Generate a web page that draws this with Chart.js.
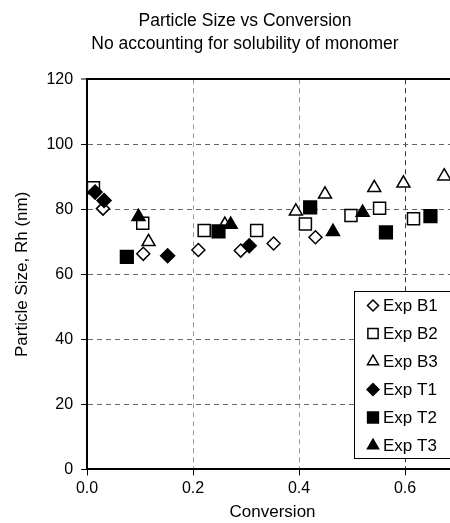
<!DOCTYPE html>
<html>
<head>
<meta charset="utf-8">
<script src="https://cdn.jsdelivr.net/npm/chart.js@4/dist/chart.umd.min.js"></script>
<style>
    html, body { margin: 0; padding: 0; background: #fff; overflow: hidden; }
    #wrap { width: 450px; height: 523px; overflow: hidden; }
</style>
</head>
<body>
<div id="wrap">
    <canvas id="sizeChart" width="490" height="523" style="width:490px;height:523px"></canvas>
</div>
<script>
// conversion (x) and hydrodynamic radius Rh in nm (y) for each run
var convB1 = [0.030, 0.106, 0.210, 0.290, 0.352, 0.431]
var rhB1 = [80.2, 66.3, 67.5, 67.3, 69.5, 71.4]

var convB2 = [0.012, 0.105, 0.221, 0.320, 0.412, 0.498, 0.552, 0.616]
var rhB2 = [86.6, 75.7, 73.5, 73.5, 75.5, 78.1, 80.3, 77.1]

var convB3 = [0.116, 0.260, 0.394, 0.449, 0.542, 0.597, 0.674]
var rhB3 = [70.0, 75.3, 79.4, 84.6, 86.6, 88.0, 90.2]

var convT1 = [0.015, 0.032, 0.152, 0.306]
var rhT1 = [85.3, 82.7, 65.7, 68.8]

var convT2 = [0.075, 0.248, 0.421, 0.564, 0.648]
var rhT2 = [65.4, 73.2, 80.6, 72.9, 77.9]

var convT3 = [0.097, 0.271, 0.464, 0.520]
var rhT3 = [77.7, 75.3, 73.1, 79.0]

var conversionTicks = [0, 0.2, 0.4, 0.6]

var titleLines = ["Particle Size vs Conversion", "No accounting for solubility of monomer"]

var fontFamily = '"Liberation Sans", Arial, Helvetica, sans-serif'

function points(xs, ys) {
    return xs.map(function (x, i) { return {x: x, y: ys[i]}; });
}

function series(label, xs, ys, style, radius, filled, order) {
    return {
        label: label,
        data: points(xs, ys),
        pointStyle: style,
        pointRadius: radius,
        pointHoverRadius: radius,
        backgroundColor: filled ? '#000' : '#fff',
        borderColor: '#000',
        borderWidth: 1.5,
        showLine: false,
        order: order
    };
}

// legend drawn inside the plot, lower right, like the spreadsheet original
var legendBox = {
    id: 'legendBox',
    afterDraw: function (chart) {
        var ctx = chart.ctx;
        var left = 354.5, top = 291.5, rowH = 28;
        ctx.save();
        ctx.fillStyle = '#fff';
        ctx.strokeStyle = '#000';
        ctx.lineWidth = 1;
        ctx.fillRect(left, top, 130, 167);
        ctx.strokeRect(left, top, 130, 167);
        ctx.font = '17px ' + fontFamily;
        ctx.textBaseline = 'middle';
        chart.data.datasets.forEach(function (ds, i) {
            var y = top + 14 + i * rowH;
            ctx.fillStyle = ds.backgroundColor;
            ctx.strokeStyle = ds.borderColor;
            ctx.lineWidth = ds.borderWidth;
            Chart.helpers.drawPoint(ctx, {
                pointStyle: ds.pointStyle,
                radius: ds.pointRadius * 0.85,
                borderWidth: ds.borderWidth,
                rotation: 0
            }, left + 18.5, y);
            ctx.fillStyle = '#000';
            ctx.fillText(ds.label, left + 28.5, y + 1);
        });
        ctx.restore();
    }
};

function isTick(c, v) {
    return c.tick && Math.abs(c.tick.value - v) < 1e-6;
}

new Chart(document.getElementById('sizeChart'), {
    type: 'scatter',
    data: {
        datasets: [
            series('Exp B1', convB1, rhB1, 'rectRot', 6.5, false, 6),
            series('Exp B2', convB2, rhB2, 'rect', 8.5, false, 5),
            series('Exp B3', convB3, rhB3, 'triangle', 7.5, false, 4),
            series('Exp T1', convT1, rhT1, 'rectRot', 7, true, 3),
            series('Exp T2', convT2, rhT2, 'rect', 9, true, 2),
            series('Exp T3', convT3, rhT3, 'triangle', 7.5, true, 1)
        ]
    },
    options: {
        responsive: false,
        animation: false,
        layout: {padding: 0},
        plugins: {
            legend: {display: false},
            tooltip: {enabled: false},
            title: {
                display: true,
                text: titleLines,
                color: '#000',
                font: {family: fontFamily, size: 17.5, weight: 'normal', lineHeight: 1.35},
                padding: {top: 9, bottom: 23}
            }
        },
        scales: {
            x: {
                type: 'linear',
                position: 'bottom',
                min: 0,
                max: 0.7,
                bounds: 'data',
                afterBuildTicks: function (scale) {
                    scale.ticks = conversionTicks.map(function (v) { return {value: v}; });
                },
                ticks: {
                    color: '#000',
                    padding: 4,
                    font: {family: fontFamily, size: 16},
                    callback: function (v) { return v.toFixed(1); }
                },
                grid: {
                    color: function (c) {
                        if (isTick(c, 0)) return 'rgba(0,0,0,0)';
                        return c.tick && c.tick.value > 0.5 ? '#333' : '#999';
                    },
                    lineWidth: 1,
                    tickColor: '#000',
                    tickWidth: 1,
                    tickLength: 6
                },
                border: {
                    display: true,
                    color: '#000',
                    width: 2,
                    dash: function (c) { return c.tick ? [5, 4] : []; }
                },
                title: {
                    display: true,
                    text: 'Conversion',
                    color: '#000',
                    font: {family: fontFamily, size: 17},
                    padding: {top: 0, bottom: 0}
                }
            },
            y: {
                type: 'linear',
                position: 'left',
                min: 0,
                max: 120,
                ticks: {
                    stepSize: 20,
                    color: '#000',
                    padding: 8,
                    font: {family: fontFamily, size: 16}
                },
                grid: {
                    color: function (c) {
                        if (isTick(c, 0)) return 'rgba(0,0,0,0)';
                        return isTick(c, 120) ? '#000' : '#666';
                    },
                    lineWidth: function (c) { return isTick(c, 120) ? 2 : 1; },
                    tickColor: '#000',
                    tickWidth: 1,
                    tickLength: 6
                },
                border: {
                    display: true,
                    color: '#000',
                    width: 2,
                    dash: function (c) { return (!c.tick || isTick(c, 120)) ? [] : [5, 4]; }
                },
                title: {
                    display: true,
                    text: 'Particle Size, Rh (nm)',
                    color: '#000',
                    font: {family: fontFamily, size: 17},
                    padding: {top: 12, bottom: 6}
                }
            },
            // empty strip on the right, keeps room for the part of the plot past 0.7
            yRight: {
                type: 'linear',
                position: 'right',
                display: true,
                grid: {display: false},
                ticks: {display: false},
                border: {display: false},
                afterFit: function (scale) { scale.width = 32; }
            }
        }
    },
    plugins: [legendBox]
});
</script>
</body>
</html>
